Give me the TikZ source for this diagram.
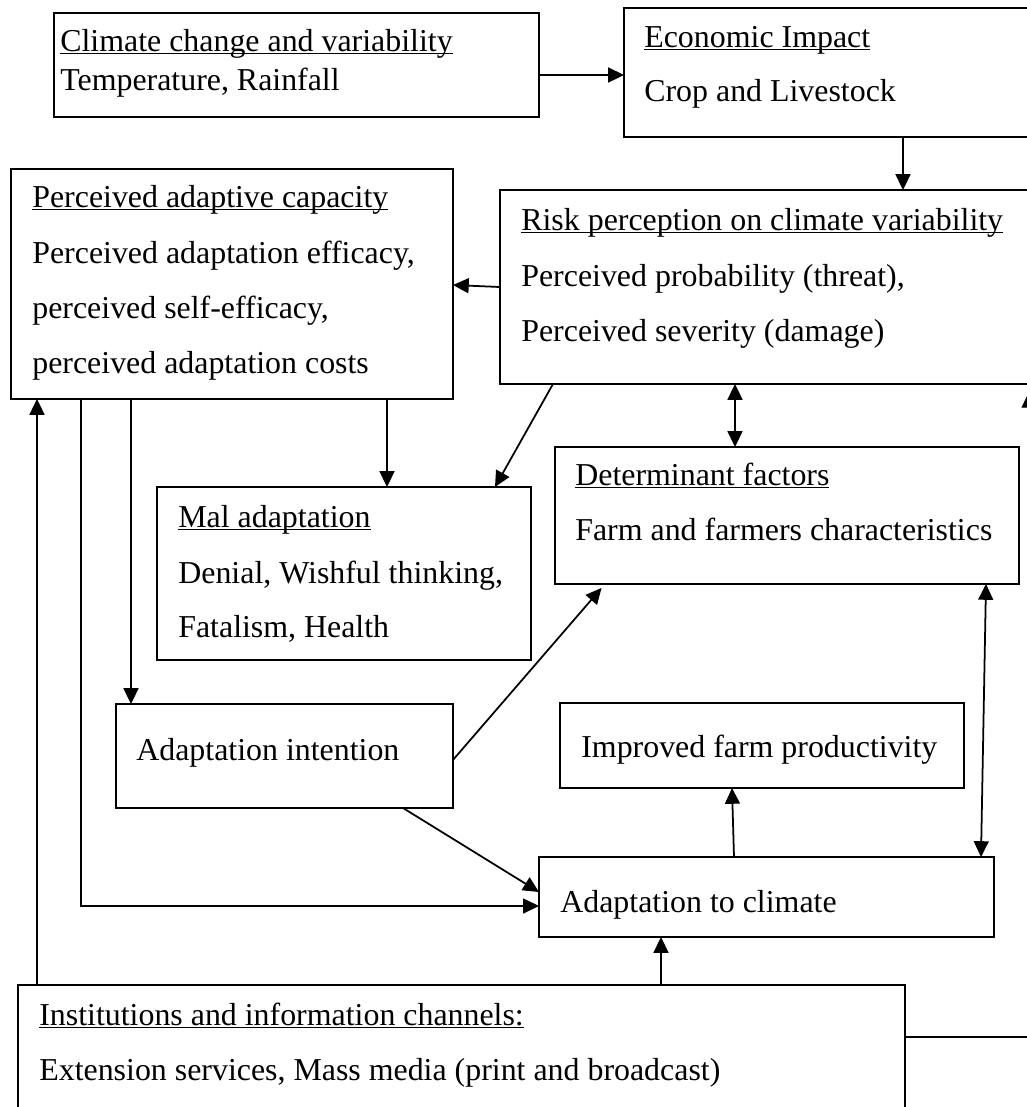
\documentclass[tikz,border=0pt]{standalone}
\usepackage{fontspec}
\setmainfont{Liberation Serif}
\usetikzlibrary{arrows.meta}
\newcommand{\undl}[1]{\leavevmode\setbox0=\hbox{#1}\rlap{\vrule width \wd0 height -1.0pt depth 1.9pt}\box0}

\begin{document}
\begin{tikzpicture}[x=0.02cm, y=-0.02cm,
	box/.style={draw, line width=0.75pt, inner sep=0pt, outer sep=0pt, anchor=north west},
	midbox/.style={box, line width=1pt},
	thickbox/.style={box, line width=1.4pt},
	txt/.style={anchor=base west, inner sep=0pt, font=\fontsize{18.15}{22}\selectfont},
	arr/.style={-{Triangle[width=8.5pt,length=9pt]}, line width=1pt},
	twoarr/.style={{Triangle[width=8.5pt,length=9pt]}-{Triangle[width=8.5pt,length=9pt]}, line width=1pt}]
			\useasboundingbox (0,0) rectangle (1027,1107);
			\clip (0,0) rectangle (1027,1107);
			% boxes
			\node[midbox, minimum width=9.70cm, minimum height=2.08cm] (climate) at (54,13) {};
			\node[box, minimum width=8.32cm, minimum height=2.58cm] (econ) at (624,8) {};
			\node[midbox, minimum width=8.84cm, minimum height=4.60cm] (perc) at (11,169) {};
			\node[midbox, minimum width=10.80cm, minimum height=3.88cm] (risk) at (500,190) {};
			\node[box, minimum width=9.28cm, minimum height=2.74cm] (det) at (555,447) {};
			\node[midbox, minimum width=7.48cm, minimum height=3.46cm] (mal) at (157,487) {};
			\node[box, minimum width=6.74cm, minimum height=2.08cm] (intent) at (116,704) {};
			\node[box, minimum width=8.08cm, minimum height=1.70cm] (improv) at (560,703) {};
			\node[thickbox, minimum width=9.10cm, minimum height=1.60cm] (adapt) at (539,857) {};
			\node[thickbox, minimum width=17.74cm, minimum height=2.80cm] (inst) at (18,985) {};
			% texts
			\node[txt] (climateA) at (60,51) {\undl{Climate change and variability}};
			\node[txt] (climateB) at (60,90) {Temperature, Rainfall};
			\node[txt] (econA) at (644,47) {\undl{Economic Impact}};
			\node[txt] (econB) at (644,101) {Crop and Livestock};
			\node[txt] (percA) at (32,207) {\undl{Perceived adaptive capacity}};
			\node[txt] (percB) at (32,263) {Perceived adaptation efficacy,};
			\node[txt] (percC) at (32,318) {perceived self-efficacy,};
			\node[txt] (percD) at (32,373) {perceived adaptation costs};
			\node[txt] (riskA) at (521,230) {\undl{Risk perception on climate variability}};
			\node[txt] (riskB) at (521,286) {Perceived probability (threat),};
			\node[txt] (riskC) at (521,341) {Perceived severity (damage)};
			\node[txt] (detA) at (575,485) {\undl{Determinant factors}};
			\node[txt] (detB) at (575,540) {Farm and farmers characteristics};
			\node[txt] (malA) at (178,527) {\undl{Mal adaptation}};
			\node[txt] (malB) at (178,583) {Denial, Wishful thinking,};
			\node[txt] (malC) at (178,637) {Fatalism, Health};
			\node[txt] (intentA) at (136,760) {Adaptation intention};
			\node[txt] (improvA) at (581,757) {Improved farm productivity};
			\node[txt] (adaptA) at (560,912) {Adaptation to climate};
			\node[txt] (instA) at (39,1025) {\undl{Institutions and information channels:}};
			\node[txt] (instB) at (39,1080) {Extension services, Mass media (print and broadcast)};
			% connectors
			\draw[arr] (climate.east |- 0,75) -- (econ.west |- 0,75);
			\draw[arr] (903,0 |- econ.south) -- (903,0 |- risk.north);
			\draw[arr] (risk.west |- 0,287) -- (perc.east |- 0,285);
			\draw[arr] (387,0 |- perc.south) -- (387,0 |- mal.north);
			\draw[arr] (553,0 |- risk.south) -- (495,0 |- mal.north);
			\draw[twoarr] (735,0 |- risk.south) -- (735,0 |- det.north);
			\draw[arr] (131,0 |- perc.south) -- (131,0 |- intent.north);
			\draw[arr, line width=0.7pt] (81,0 |- perc.south) |- (adapt.west |- 0,906);
			\draw[arr, shorten >=3pt] (intent.east |- 0,760) -- (605,0 |- det.south);
			\draw[arr] (403,0 |- intent.south) -- (adapt.west |- 0,892);
			\draw[arr] (734,0 |- adapt.north) -- (732,0 |- improv.south);
			\draw[twoarr] (986,0 |- det.south) -- (981,0 |- adapt.north);
			\draw[arr] (661,0 |- inst.north) -- (661,0 |- adapt.south);
			\draw[arr] (37,0 |- inst.north) -- (37,0 |- perc.south);
			\draw[arr, line width=0.7pt, shorten >=4.5pt] (inst.east |- 0,1037) -| (1029,0 |- risk.south);
		\end{tikzpicture}
\end{document}
